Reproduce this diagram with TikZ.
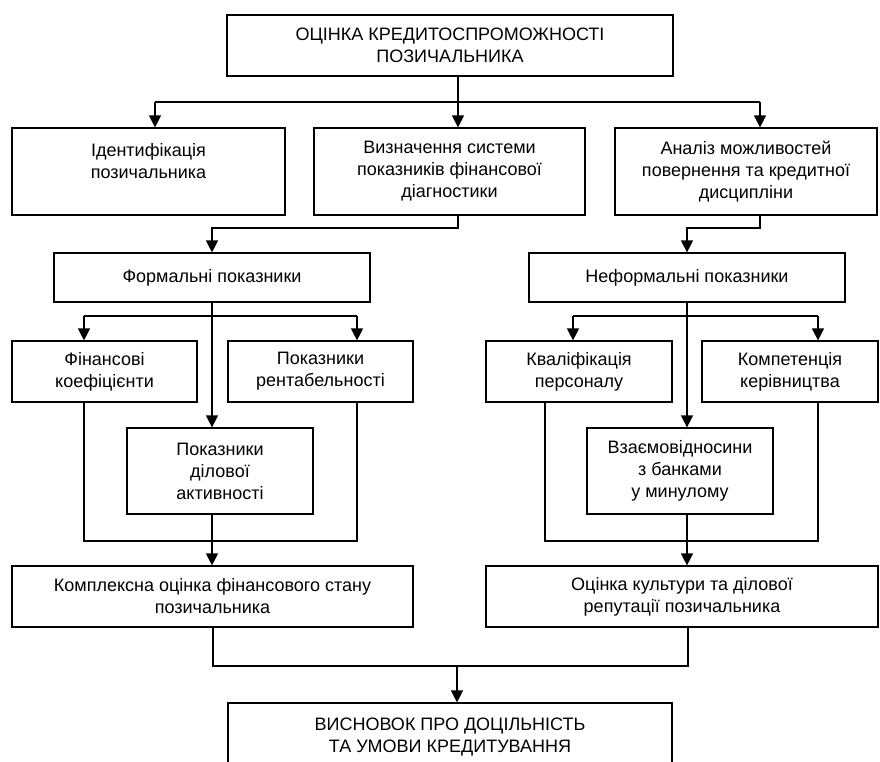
\documentclass[tikz,border=0pt]{standalone}
\usepackage{fontspec}
\setmainfont{Liberation Sans}
\usetikzlibrary{positioning,arrows.meta}

\begin{document}
\begin{tikzpicture}[x=1pt, y=-1pt, line width=1.2pt,
                      every node/.style = {shape=rectangle, draw, align=center,
                        inner sep=0pt, line width=1.2pt,
                        font=\fontsize{18}{22}\selectfont},
                      arr/.style = {-{Triangle[width=12pt,length=12pt]}}]
  \useasboundingbox (0,0) rectangle (880,761);

  % boxes
  \node (top) at (450,45.5) [minimum width=446, minimum height=61]
    {ОЦІНКА КРЕДИТОСПРОМОЖНОСТІ\\ПОЗИЧАЛЬНИКА};
  \node (ident) at (148.5,171.5) [minimum width=273, minimum height=87]
    {Ідентифікація\\позичальника\\\mbox{}};
  \node (vyzn) at (449.5,171.5) [minimum width=271, minimum height=87]
    {Визначення системи\\показників фінансової\\діагностики};
  \node (analiz) at (746,171.5) [minimum width=262, minimum height=87]
    {Аналіз можливостей\\повернення та кредитної\\дисципліни};
  \node (formal) at (212,277.5) [minimum width=316, minimum height=49]
    {Формальні показники};
  \node (neform) at (687,277.5) [minimum width=316, minimum height=49]
    {Неформальні показники};
  \node (fin) at (104.5,371.5) [minimum width=185, minimum height=61]
    {Фінансові\\коефіцієнти};
  \node (rent) at (320.5,371.5) [minimum width=185, minimum height=61]
    {Показники\\рентабельності};
  \node (dil) at (220,471) [minimum width=186, minimum height=86]
    {Показники\\ділової\\активності};
  \node (kval) at (579,371.5) [minimum width=186, minimum height=61]
    {Кваліфікація\\персоналу};
  \node (komp) at (790,371.5) [minimum width=176, minimum height=61]
    {Компетенція\\керівництва};
  \node (vzaem) at (680,471) [minimum width=186, minimum height=86]
    {Взаємовідносини\\з банками\\у минулому};
  \node (kompl) at (212.5,596.5) [minimum width=401, minimum height=61]
    {Комплексна оцінка фінансового стану\\позичальника};
  \node (kult) at (682,596.5) [minimum width=392, minimum height=61]
    {Оцінка культури та ділової\\репутації позичальника};
  \node (vysn) at (450,746) [minimum width=444, minimum height=86]
    {ВИСНОВОК ПРО ДОЦІЛЬНІСТЬ\\ТА УМОВИ КРЕДИТУВАННЯ\\\mbox{}};

  % junctions
  \coordinate (j1) at (458,102);
  \coordinate (j1l) at (155,102);
  \coordinate (j1r) at (760,102);
  \coordinate (j2l) at (458,228);
  \coordinate (j2r) at (760,228);
  \coordinate (j3a) at (84,316);
  \coordinate (j3b) at (357,316);
  \coordinate (j3c) at (573,316);
  \coordinate (j3d) at (818,316);
  \coordinate (k1) at (84,541);
  \coordinate (k2) at (357,541);
  \coordinate (k3) at (545,541);
  \coordinate (k4) at (818,541);
  \coordinate (m1) at (213,666);
  \coordinate (m2) at (688,666);
  \coordinate (m0) at (457,666);

  % connectors
  \draw (top.south -| j1) -- (j1);
  \draw (j1l) -- (j1r);
  \draw[arr] (j1l) -- (j1l |- ident.north);
  \draw[arr] (j1) -- (j1 |- vyzn.north);
  \draw[arr] (j1r) -- (j1r |- analiz.north);

  \draw[arr] (vyzn.south -| j2l) -- (j2l) -| (formal.north);
  \draw[arr] (analiz.south -| j2r) -- (j2r) -| (neform.north);

  \draw (j3a) -- (j3b);
  \draw[arr] (j3a) -- (j3a |- fin.north);
  \draw[arr] (j3b) -- (j3b |- rent.north);
  \draw[arr] (formal.south) -- (formal.south |- dil.north);
  \draw (j3c) -- (j3d);
  \draw[arr] (j3c) -- (j3c |- kval.north);
  \draw[arr] (j3d) -- (j3d |- komp.north);
  \draw[arr] (neform.south) -- (neform.south |- vzaem.north);

  \draw (k1 |- fin.south) -- (k1) -- (k2) -- (k2 |- rent.south);
  \draw[arr] (formal.south |- dil.south) -- (formal.south |- kompl.north);
  \draw (k3 |- kval.south) -- (k3) -- (k4) -- (k4 |- komp.south);
  \draw[arr] (neform.south |- vzaem.south) -- (neform.south |- kult.north);

  \draw (m1 |- kompl.south) -- (m1) -- (m2) -- (m2 |- kult.south);
  \draw[arr] (m0) -- (m0 |- vysn.north);
\end{tikzpicture}
\end{document}
